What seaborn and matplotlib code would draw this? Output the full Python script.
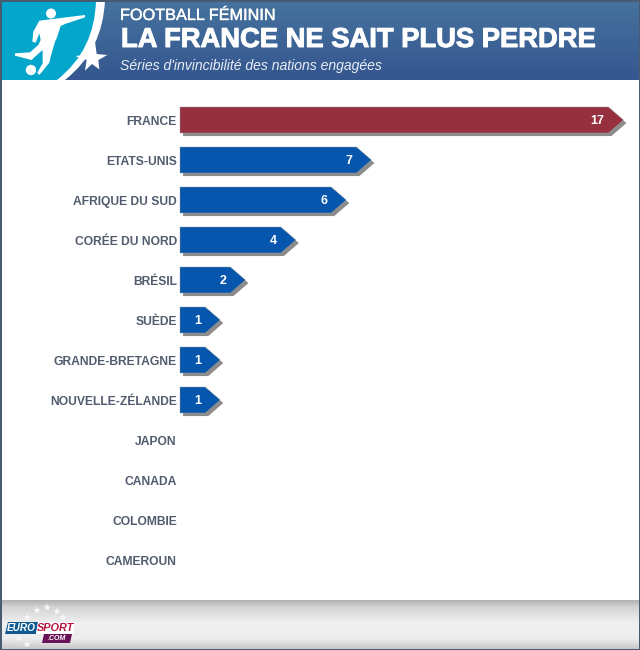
import numpy as np
import pandas as pd
import matplotlib
matplotlib.use("Agg")
import matplotlib.pyplot as plt
import matplotlib.patheffects as pe
from matplotlib.patches import Polygon, PathPatch, Rectangle, Circle
from matplotlib.path import Path
from matplotlib.transforms import offset_copy
import seaborn as sns

# data
pays = ["FRANCE", "ETATS-UNIS", "AFRIQUE DU SUD", "CORÉE DU NORD", "BRÉSIL", "SUÈDE",
        "GRANDE-BRETAGNE", "NOUVELLE-ZÉLANDE", "JAPON", "CANADA", "COLOMBIE", "CAMEROUN"]
series = [17, 7, 6, 4, 2, 1, 1, 1, 0, 0, 0, 0]
couleurs = ["#96303f"] + ["#0656ad"] * 11

sur_titre = "FOOTBALL FÉMININ"
titre = "LA FRANCE NE SAIT PLUS PERDRE"
sous_titre = "Séries d'invincibilité des nations engagées"

sns.set_theme(style="white")
plt.rcParams["font.family"] = ["Liberation Sans", "DejaVu Sans"]

W, H = 640, 650
fig = plt.figure(figsize=(W / 100, H / 100), dpi=100, facecolor="white")

# decor layer, in pixels
deco = fig.add_axes([0, 0, 1, 1], zorder=0)
deco.set_xlim(0, W)
deco.set_ylim(H, 0)
deco.axis("off")

# header gradient
grad = np.linspace(0, 1, 80).reshape(-1, 1)
haut = np.array(matplotlib.colors.to_rgb("#46739f"))
bas = np.array(matplotlib.colors.to_rgb("#35568f"))
deco.imshow((haut + (bas - haut) * grad[..., None]).reshape(80, 1, 3), extent=[0, W, 80, 0], aspect="auto", zorder=1)

# cyan panel + white arc
codes = [Path.MOVETO, Path.LINETO, Path.CURVE3, Path.CURVE3, Path.LINETO, Path.CLOSEPOLY]
arc = Path([(0, 0), (105, 0), (103, 50), (65, 80), (0, 80), (0, 0)], codes)
deco.add_patch(PathPatch(arc, fc="white", ec="none", zorder=2))
arc2 = Path([(0, 0), (96, 0), (95, 50), (57, 80), (0, 80), (0, 0)], codes)
deco.add_patch(PathPatch(arc2, fc="#04a6cb", ec="none", zorder=3))

# player
joueur = np.array([(150, 58), (255, 45), (255, 52), (195, 72), (182, 78), (170, 115), (165, 125), (152, 170),
                   (148, 188), (118, 225), (112, 218), (128, 190), (128, 150), (105, 170), (95, 180), (45, 167),
                   (45, 160), (90, 157), (115, 135), (122, 120), (118, 100), (107, 128), (97, 125), (100, 95),
                   (118, 62)]) / 3
deco.add_patch(Polygon(joueur, fc="white", ec="none", zorder=4))
deco.add_patch(Circle((51, 13.5), 5, fc="white", ec="none", zorder=4))
deco.add_patch(Circle((31, 70), 5.2, fc="white", ec="none", zorder=4))
etoile = np.array([(225, 168), (262, 165), (285, 125), (290, 162), (322, 165), (295, 180), (298, 208),
                   (276, 192), (255, 212), (260, 180)]) / 3
deco.add_patch(Polygon(etoile, fc="white", ec="none", zorder=5))

# header text
deco.text(120, 15.5, sur_titre, color="white", fontsize=11.7, va="center", ha="left", zorder=6,
          path_effects=[pe.withStroke(linewidth=0.3, foreground="white")])
t = deco.text(121, 40, titre, color="white", fontsize=19.7, fontweight="bold", va="center", ha="left", zorder=6)
t.set_path_effects([pe.withStroke(linewidth=0.7, foreground="white")])
deco.text(120, 66.3, sous_titre, color="#e8eef5", fontsize=10.1, style="italic", va="center", ha="left", zorder=6)

# footer
pied = np.interp(np.arange(50), [0, 6, 22, 38, 50], [0.70, 0.82, 0.94, 0.93, 0.76])
deco.imshow(np.dstack([pied, pied, pied]).reshape(50, 1, 3), extent=[0, W, 650, 600], aspect="auto", zorder=1)
deco.set_xlim(0, W)
deco.set_ylim(H, 0)

# eurosport logo
deco.add_patch(Polygon([(8, 622), (38, 622), (36, 634), (5, 634)], fc="#0e5a92", ec="none", zorder=4))
deco.add_patch(Polygon([(38, 622), (75, 622), (73, 634), (36, 634)], fc="white", ec="none", zorder=4))
deco.add_patch(Polygon([(44, 634), (72, 634), (70, 643), (42, 643)], fc="#6a1257", ec="none", zorder=4))
deco.text(21.5, 628.3, "EURO", color="white", fontsize=7.2, fontweight="bold", style="italic", ha="center", va="center", zorder=5)
deco.text(55.5, 628.3, "SPORT", color="#b8143c", fontsize=7.8, fontweight="bold", style="italic", ha="center", va="center", zorder=5)
deco.text(57, 638.5, ".COM", color="white", fontsize=5, fontweight="bold", style="italic", ha="center", va="center", zorder=5)
for ex, ey in [(27, 617), (37, 610), (47, 607), (57, 611), (63, 617), (19, 638), (27, 644)]:
    deco.plot(ex, ey, marker="*", ms=6, color="#f4f4f4", mew=0, zorder=4)

# frame
for rect in [(0, 0, W, 1.5), (0, 0, 1.5, H), (W - 1.5, 0, 1.5, H), (0, H - 1.5, W, 1.5)]:
    deco.add_patch(Rectangle(rect[:2], rect[2], rect[3], fc="#4a5a70", ec="none", zorder=8))

# chart
px_unite = 25.2
ax = fig.add_axes([180 / W, 1 - 580 / H, 460 / W, 480 / H], zorder=2)
ax.patch.set_alpha(0)
df = pd.DataFrame({"pays": pays, "series": series})
sns.barplot(data=df, x="series", y="pays", hue="pays", palette=couleurs, legend=False, width=0.65, ax=ax, saturation=1)
ax.set_xlim(0, 460 / px_unite)
ax.set_ylim(11.5, -0.5)
ax.set_xlabel("")
ax.set_ylabel("")
ax.set_xticks([])
sns.despine(ax=ax, left=True, bottom=True, top=True, right=True)
ax.tick_params(axis="y", length=0, pad=2.3)
for lab in ax.get_yticklabels():
    lab.set_fontsize(8.7)
    lab.set_fontweight("bold")
    lab.set_color("#525c6e")

# bars turned into arrows with a grey drop shadow
pointe = 15 / px_unite
ombre = offset_copy(ax.transData, fig=fig, x=2.2, y=-2.2, units="points")
for bar in ax.patches:
    larg = bar.get_width()
    if larg <= 0:
        continue
    y0, h = bar.get_y(), bar.get_height()
    pts = [(0, y0), (larg, y0), (larg + pointe, y0 + h / 2), (larg, y0 + h), (0, y0 + h)]
    ax.add_patch(Polygon(pts, fc="#8c8c8c", ec="none", transform=ombre, zorder=3, clip_on=False))
    ax.add_patch(Polygon(pts, fc=bar.get_facecolor(), ec="#9a9a9a", lw=0.3, zorder=4, clip_on=False))
    bar.set_visible(False)
    ax.annotate(str(int(larg)), (larg, y0 + h / 2), xytext=(-3, -0.6), textcoords="offset points",
                ha="right", va="center", color="white", fontsize=9, fontweight="bold", zorder=5)

fig.savefig("out.png", dpi=100)
